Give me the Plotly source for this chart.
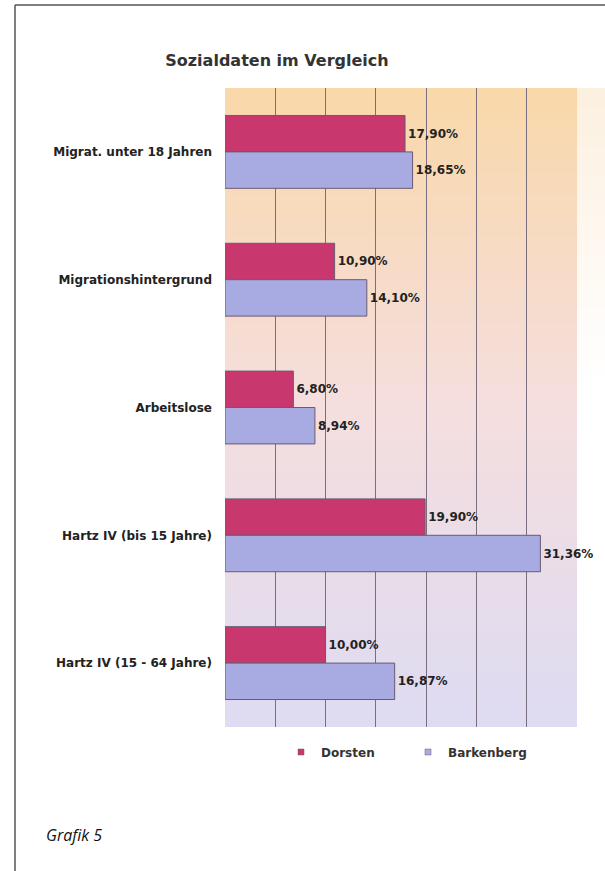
import plotly.graph_objects as go

categories = ["Migrat. unter 18 Jahren", "Migrationshintergrund", "Arbeitslose",
              "Hartz IV (bis 15 Jahre)", "Hartz IV (15 - 64 Jahre)"]
dorsten = [17.90, 10.90, 6.80, 19.90, 10.00]
barkenberg = [18.65, 14.10, 8.94, 31.36, 16.87]
series_names = ["Dorsten", "Barkenberg"]
x_ticks = [0, 5, 10, 15, 20, 25, 30, 35]

FONT = "DejaVu Sans"

def fmt(v):
    return "<b>" + f"{v:.2f}".replace(".", ",") + "%</b>"

W, H = 605, 871
fig = go.Figure()
for name, vals, col in [(series_names[0], dorsten, "#c8386f"),
                        (series_names[1], barkenberg, "#a7abe2")]:
    fig.add_trace(go.Bar(
        y=categories, x=vals, orientation="h", name=name, showlegend=False,
        marker=dict(color=col, line=dict(color="#6a5a72", width=1)),
        text=[fmt(v) for v in vals], textposition="outside",
        textfont=dict(family=FONT, size=12, color="#222"),
        cliponaxis=False,
    ))
    fig.add_trace(go.Scatter(
        x=[None], y=[None], mode="markers", name=f"<b>{name}</b>",
        marker=dict(symbol="square", size=6, color=col, line=dict(color="#6a5a72", width=0.5)),
    ))

def lerp(a, b, t):
    return tuple(int(round(a[i] + (b[i] - a[i]) * t)) for i in range(3))

top_c, mid_c, bot_c = (249, 216, 170), (245, 222, 222), (222, 219, 242)
N = 60
shapes = []
for i in range(N):
    t = i / (N - 1)
    c = lerp(top_c, mid_c, t * 2) if t < 0.5 else lerp(mid_c, bot_c, (t - 0.5) * 2)
    shapes.append(dict(type="rect", xref="x domain", yref="y domain",
                       x0=0, x1=1, y0=max(0, 1 - (i + 1.6) / N), y1=1 - i / N,
                       fillcolor="rgb(%d,%d,%d)" % c, line=dict(width=0), layer="below"))

# faint peach glow to the right of the plot
M = 30
for i in range(M):
    t = i / (M - 1)
    c = lerp((252, 240, 224), (255, 255, 255), t)
    y1 = 1 - (88 + i * 10) / H
    y0 = 1 - (88 + (i + 1.3) * 10) / H
    shapes.append(dict(type="rect", xref="paper", yref="paper", x0=577 / W, x1=1,
                       y0=y0, y1=y1, fillcolor="rgb(%d,%d,%d)" % c, line=dict(width=0), layer="below"))

# page frame
shapes.append(dict(type="line", xref="paper", yref="paper", x0=15 / W, x1=15 / W, y0=0, y1=1 - 5 / H,
                   line=dict(color="#555", width=1.5)))
shapes.append(dict(type="line", xref="paper", yref="paper", x0=15 / W, x1=1, y0=1 - 5 / H, y1=1 - 5 / H,
                   line=dict(color="#555", width=1.5)))

fig.update_layout(
    width=W, height=H,
    margin=dict(l=0, r=0, t=0, b=0),
    paper_bgcolor="white", plot_bgcolor="rgba(0,0,0,0)",
    barmode="group", bargap=0.43, bargroupgap=0,
    shapes=shapes,
    title=dict(text="<b>Sozialdaten im Vergleich</b>", x=277 / W, xanchor="center",
               y=1 - 60 / H, yanchor="middle",
               font=dict(family=FONT, size=16, color="#333")),
    xaxis=dict(domain=[225 / W, 577 / W], range=[0, 35], tickvals=x_ticks, showticklabels=False,
               showgrid=True, gridcolor="#786e7e", gridwidth=1, zeroline=False,
               showline=False, automargin=False),
    yaxis=dict(domain=[1 - 727 / H, 1 - 88 / H], autorange="reversed", automargin=False,
               tickfont=dict(family=FONT, size=12, color="#222"),
               ticklabelstandoff=12, showgrid=False, showline=False,
               tickvals=categories, ticktext=[f"<b>{c}</b>" for c in categories]),
    legend=dict(orientation="h", x=281 / W, y=1 - 752 / H, xanchor="left", yanchor="middle",
                font=dict(family=FONT, size=12, color="#333"),
                entrywidth=82, entrywidthmode="pixels", bgcolor="rgba(0,0,0,0)"),
    annotations=[dict(text="<i>Grafik 5</i>", xref="paper", yref="paper", x=44 / W, y=1 - 835 / H,
                      xanchor="left", yanchor="middle", showarrow=False,
                      font=dict(family="Open Sans", size=16, color="#111"))],
)

fig.write_html("out.html")
